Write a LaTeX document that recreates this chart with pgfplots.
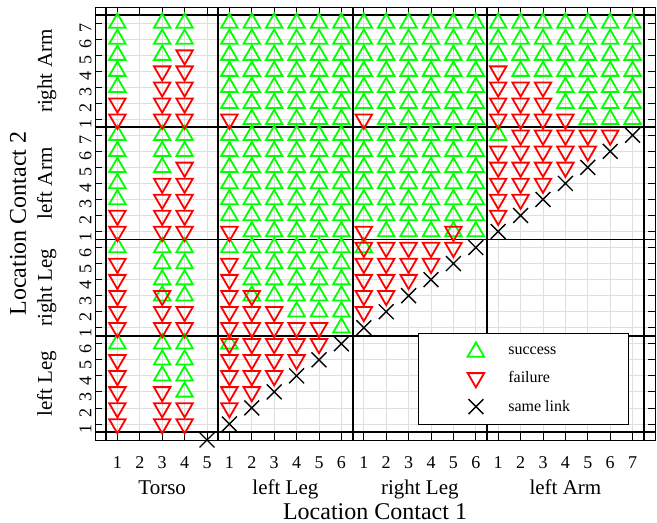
\documentclass[border=0pt]{standalone}
\usepackage{fontspec}
\setmainfont{Liberation Serif}
\usepackage{pgfplots}
\pgfplotsset{compat=1.18}
\begin{document}
\begin{tikzpicture}
\begin{axis}[
  scale only axis, width=560pt, height=433pt,
  xmin=0, xmax=25, ymin=0, ymax=27,
  xtick={1,...,24}, ytick={1,...,26},
  xticklabels={1,2,3,4,5,1,2,3,4,5,6,1,2,3,4,5,6,1,2,3,4,5,6,7},
  yticklabels={1,2,3,4,5,6,1,2,3,4,5,6,1,2,3,4,5,6,7,1,2,3,4,5,6,7},
  tick align=inside, major tick length=7pt,
  tick style={black, line width=0.8pt},
  grid=major, major grid style={gray!25, line width=0.8pt},
  axis line style={line width=0.8pt},
  ticklabel style={font=\fontsize{18}{21}\selectfont},
  xticklabel style={yshift=-13pt},
  yticklabel style={rotate=90, anchor=south, xshift=-5pt},
  clip=false,
  legend style={draw=black, line width=0.8pt, fill=white, inner xsep=0pt, inner ysep=9pt,
    font=\fontsize{16}{19}\selectfont, at={(0.577,0.247)}, anchor=north west, row sep=11pt},
  legend cell align=left,
  legend image code/.code={\path (-57pt,0pt) (30pt,0pt); \draw[#1] plot coordinates {(0pt,0pt)};},
]
% panel separators
\addplot[forget plot, black, line width=1.8pt] coordinates {(0.5,0)(0.5,27)};
\addplot[forget plot, black, line width=1.8pt] coordinates {(5.5,0)(5.5,27)};
\addplot[forget plot, black, line width=1.8pt] coordinates {(11.5,0)(11.5,27)};
\addplot[forget plot, black, line width=1.8pt] coordinates {(17.5,0)(17.5,27)};
\addplot[forget plot, black, line width=1.8pt] coordinates {(24.5,0)(24.5,27)};
\addplot[forget plot, black, line width=1.8pt] coordinates {(0,0.5)(25,0.5)};
\addplot[forget plot, black, line width=1.8pt] coordinates {(0,6.5)(25,6.5)};
\addplot[forget plot, black, line width=1.8pt] coordinates {(0,12.5)(25,12.5)};
\addplot[forget plot, black, line width=1.8pt] coordinates {(0,19.5)(25,19.5)};
\addplot[forget plot, black, line width=1.8pt] coordinates {(0,26.5)(25,26.5)};
\addplot[only marks, mark=triangle, mark size=9.5pt, color=green, mark options={line width=1.8pt}] coordinates {
(1,26)(1,25)(1,24)(1,23)(1,22)(1,19)(1,18)(1,17)(1,16)(1,15)(1,12)(1,6)
(3,26)(3,25)(3,24)(3,19)(3,18)(3,17)(3,12)(3,11)(3,10)(3,9)(3,6)(3,5)(3,4)
(4,26)(4,25)(4,19)(4,18)(4,12)(4,11)(4,10)(4,9)(4,6)(4,5)(4,4)(4,3)
(6,26)(6,25)(6,24)(6,23)(6,22)(6,21)(6,19)(6,18)(6,17)(6,16)(6,15)(6,14)(6,12)(6,6)
(7,26)(7,25)(7,24)(7,23)(7,22)(7,21)(7,20)(7,19)(7,18)(7,17)(7,16)(7,15)(7,14)(7,13)(7,12)(7,11)(7,10)(7,9)
(8,26)(8,25)(8,24)(8,23)(8,22)(8,21)(8,20)(8,19)(8,18)(8,17)(8,16)(8,15)(8,14)(8,13)(8,12)(8,11)(8,10)(8,9)
(9,26)(9,25)(9,24)(9,23)(9,22)(9,21)(9,20)(9,19)(9,18)(9,17)(9,16)(9,15)(9,14)(9,13)(9,12)(9,11)(9,10)(9,9)(9,8)
(10,26)(10,25)(10,24)(10,23)(10,22)(10,21)(10,20)(10,19)(10,18)(10,17)(10,16)(10,15)(10,14)(10,13)(10,12)(10,11)(10,10)(10,9)(10,8)
(11,26)(11,25)(11,24)(11,23)(11,22)(11,21)(11,20)(11,19)(11,18)(11,17)(11,16)(11,15)(11,14)(11,13)(11,12)(11,11)(11,10)(11,9)(11,8)(11,7)
(12,26)(12,25)(12,24)(12,23)(12,22)(12,21)(12,19)(12,18)(12,17)(12,16)(12,15)(12,14)(12,12)
(13,26)(13,25)(13,24)(13,23)(13,22)(13,21)(13,20)(13,19)(13,18)(13,17)(13,16)(13,15)(13,14)(13,13)
(14,26)(14,25)(14,24)(14,23)(14,22)(14,21)(14,20)(14,19)(14,18)(14,17)(14,16)(14,15)(14,14)(14,13)
(15,26)(15,25)(15,24)(15,23)(15,22)(15,21)(15,20)(15,19)(15,18)(15,17)(15,16)(15,15)(15,14)(15,13)
(16,26)(16,25)(16,24)(16,23)(16,22)(16,21)(16,20)(16,19)(16,18)(16,17)(16,16)(16,15)(16,14)(16,13)
(17,26)(17,25)(17,24)(17,23)(17,22)(17,21)(17,20)(17,19)(17,18)(17,17)(17,16)(17,15)(17,14)(17,13)
(18,26)(18,25)(18,24)(18,19)
(19,26)(19,25)(19,24)(19,23)
(20,26)(20,25)(20,24)(20,23)
(21,26)(21,25)(21,24)(21,23)(21,22)(21,21)
(22,26)(22,25)(22,24)(22,23)(22,22)(22,21)(22,20)
(23,26)(23,25)(23,24)(23,23)(23,22)(23,21)(23,20)
(24,26)(24,25)(24,24)(24,23)(24,22)(24,21)(24,20)
};
\addlegendentry{success}
\addplot[only marks, mark=triangle, mark size=9.5pt, color=red, mark options={rotate=180, line width=1.8pt}] coordinates {
(1,21)(1,20)(1,14)(1,13)(1,11)(1,10)(1,9)(1,8)(1,7)(1,5)(1,4)(1,3)(1,2)(1,1)
(3,23)(3,22)(3,21)(3,20)(3,16)(3,15)(3,14)(3,13)(3,9)(3,8)(3,7)(3,3)(3,2)(3,1)
(4,24)(4,23)(4,22)(4,21)(4,20)(4,17)(4,16)(4,15)(4,14)(4,13)(4,8)(4,7)(4,2)(4,1)
(6,20)(6,13)(6,11)(6,10)(6,9)(6,8)(6,7)(6,6)(6,5)(6,4)(6,3)(6,2)
(7,9)(7,8)(7,7)(7,6)(7,5)(7,4)(7,3)
(8,8)(8,7)(8,6)(8,5)(8,4)
(9,7)(9,6)(9,5)
(10,7)(10,6)
(12,20)(12,13)(12,12)(12,11)(12,10)(12,9)(12,8)
(13,12)(13,11)(13,10)(13,9)
(14,12)(14,11)(14,10)
(15,12)(15,11)
(16,13)(16,12)
(18,23)(18,22)(18,21)(18,20)(18,18)(18,17)(18,16)(18,15)(18,14)
(19,22)(19,21)(19,20)(19,19)(19,18)(19,17)(19,16)(19,15)
(20,22)(20,21)(20,20)(20,19)(20,18)(20,17)(20,16)
(21,20)(21,19)(21,18)(21,17)
(22,19)(22,18)
(23,19)
};
\addlegendentry{failure}
\addplot[only marks, mark=x, mark size=10.5pt, color=black, mark options={line width=1.4pt}] coordinates {
(5,0)(6,1)(7,2)(8,3)(9,4)(10,5)(11,6)(12,7)(13,8)(14,9)(15,10)(16,11)(17,12)
(18,13)(19,14)(20,15)(21,16)(22,17)(23,18)(24,19)
};
\addlegendentry{same link\hspace*{56pt}}
\begin{scope}[font=\fontsize{21}{24}\selectfont]
\node[anchor=base] at ([yshift=-55pt]axis cs:3,0) {Torso};
\node[anchor=base] at ([yshift=-55pt]axis cs:8.5,0) {left Leg};
\node[anchor=base] at ([yshift=-55pt]axis cs:14.5,0) {right Leg};
\node[anchor=base] at ([yshift=-55pt]axis cs:21,0) {left Arm};
\node[anchor=base, rotate=90] at ([xshift=-43pt]axis cs:0,3.5) {left Leg};
\node[anchor=base, rotate=90] at ([xshift=-43pt]axis cs:0,9.5) {right Leg};
\node[anchor=base, rotate=90] at ([xshift=-43pt]axis cs:0,16) {left Arm};
\node[anchor=base, rotate=90] at ([xshift=-43pt]axis cs:0,23) {right Arm};
\end{scope}
\begin{scope}[font=\fontsize{24}{27}\selectfont]
\node[anchor=base] at ([yshift=-79pt]axis cs:12.5,0) {Location Contact 1};
\node[anchor=base, rotate=90] at ([xshift=-69pt]axis cs:0,13.5) {Location Contact 2};
\end{scope}
\end{axis}
\pgfresetboundingbox
\path[use as bounding box] ([xshift=-95pt,yshift=-83pt]current axis.south west) rectangle ([xshift=2pt,yshift=7pt]current axis.north east);
\end{tikzpicture}
\end{document}
